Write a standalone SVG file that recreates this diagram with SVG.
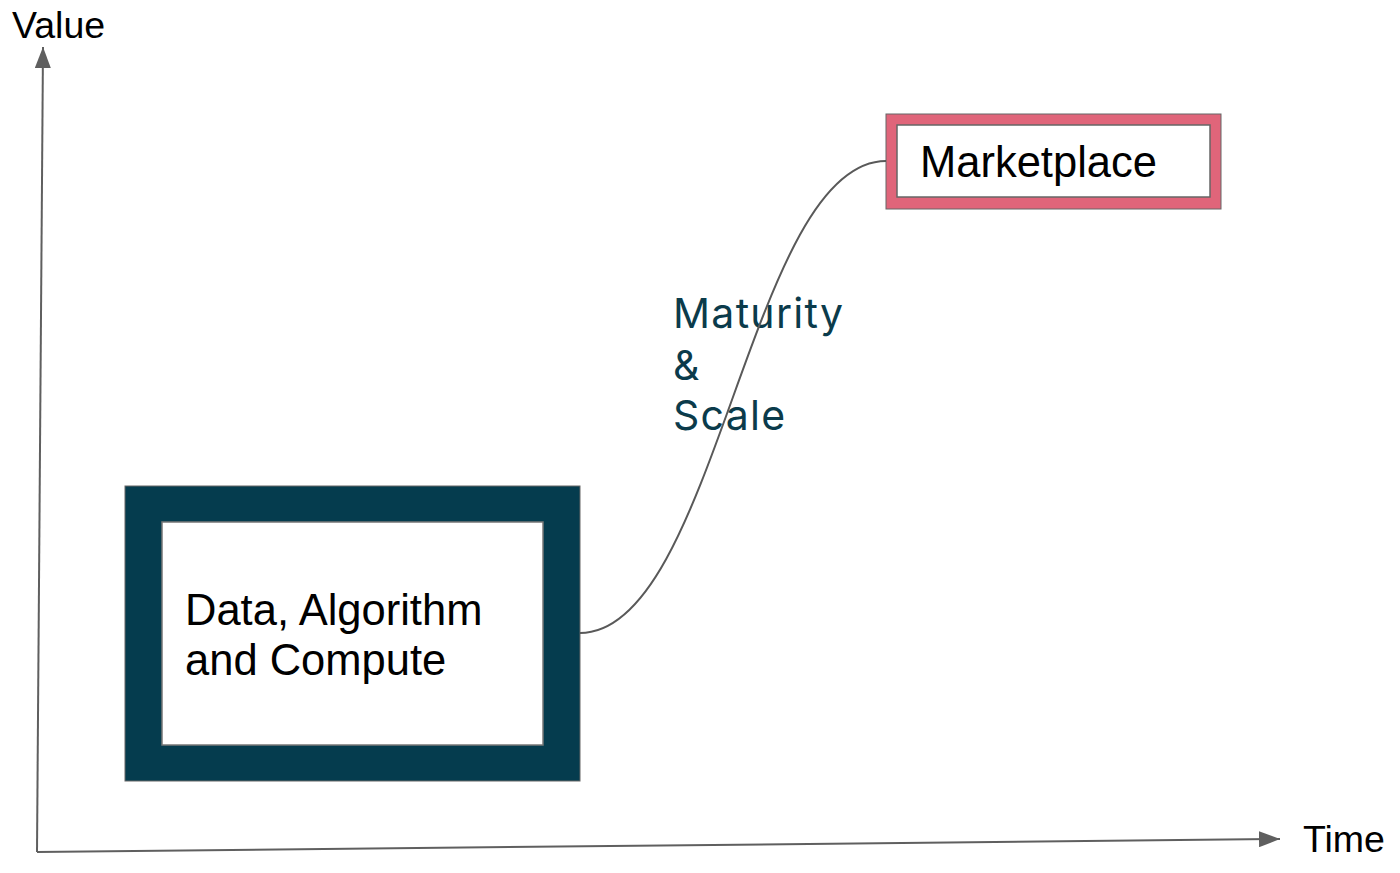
<svg xmlns="http://www.w3.org/2000/svg" width="1400" height="873" viewBox="0 0 1400 873">
<defs>
<marker id="arr" markerUnits="userSpaceOnUse" markerWidth="22" markerHeight="16" refX="21" refY="8" orient="auto">
<path d="M0,0 L21,8 L0,16 Z" fill="#5f5f5f"/>
</marker>
<style>
.axis{stroke:#5f5f5f;stroke-width:2;fill:none}
.lbl{font-family:"Liberation Sans",Arial,sans-serif;fill:#000}
.conn{stroke:#595959;stroke-width:2;fill:none}
.mat{font-family:Inter,"Liberation Sans",sans-serif;fill:#0b3b4b;font-size:41px;letter-spacing:1.3px}
</style>
</defs>
<rect width="1400" height="873" fill="#fff"/>
<g id="axes">
<line class="axis" x1="37" y1="852" x2="43" y2="47" marker-end="url(#arr)"/>
<line class="axis" x1="37" y1="852" x2="1280" y2="839" marker-end="url(#arr)"/>
<text class="lbl" x="12" y="38" font-size="37.5">Value</text>
<text class="lbl" x="1303" y="852" font-size="37.5">Time</text>
</g>
<g id="node-dac">
<rect x="125" y="486" width="455" height="295" fill="#053c4e" stroke="#666" stroke-width="1"/>
<rect x="162" y="522" width="381" height="223" fill="#fff" stroke="#777" stroke-width="1.5"/>
<text class="lbl" x="185" y="625" font-size="43.5">Data, Algorithm</text>
<text class="lbl" x="185" y="675" font-size="43.5">and Compute</text>
</g>
<g id="node-marketplace">
<rect x="886" y="114" width="335" height="95" fill="#e0657a" stroke="#666" stroke-width="1"/>
<rect x="897" y="125" width="313" height="72" fill="#fff" stroke="#666" stroke-width="1.5"/>
<text class="lbl" x="920" y="177" font-size="43.5">Marketplace</text>
</g>
<g id="label-maturity">
<text class="mat" x="673" y="328">Maturity</text>
<text class="mat" x="673" y="380">&amp;</text>
<text class="mat" x="673" y="430">Scale</text>
</g>
<g id="connectors">
<path class="conn" d="M580,633 C716,633 750,161 886,161"/>
</g>
</svg>
